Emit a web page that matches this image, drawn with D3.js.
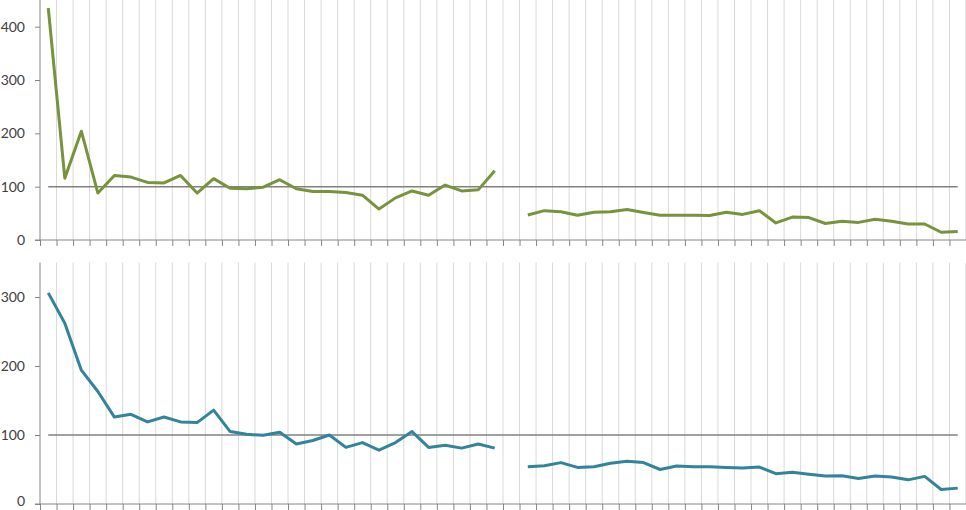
<!DOCTYPE html>
<html>
<head>
<meta charset="utf-8">
<script src="https://cdn.jsdelivr.net/npm/d3@7"></script>
<style>
  html, body { margin: 0; padding: 0; background: #fff; }
  svg { display: block; }
  .tick text { font-family: Lato, "Open Sans", sans-serif; font-size: 14px; fill: #404040; }
</style>
</head>
<body>
<svg id="chart" width="966" height="510"></svg>
<script>
// ---- data ----
const categories = d3.range(1, 57).map(String); // 56 unlabeled periods
const topSeries = [
  435, 116, 204, 88, 121, 118, 108, 107, 121, 88, 115, 97, 96, 99, 113, 96, 91, 91, 89, 84,
  58, 79, 92, 84, 103, 92, 94, 130, null, 47, 55, 53, 46.5, 52, 53, 57, 51.5, 46.5, 46.5, 46.5,
  46, 52, 48, 55, 32, 43, 42, 31, 35, 33, 39, 35, 30, 30, 14.5, 16
];
const bottomSeries = [
  306, 262, 194, 163, 126, 130, 119, 126, 119, 118, 136, 105, 101, 99.5, 104, 87, 92, 100, 82, 89,
  78, 89, 105, 82, 85, 81, 87, 81, null, 54, 55.5, 60, 53, 54, 59, 62, 60, 50, 55, 54,
  54, 53, 52, 53.5, 44, 46, 43, 40.5, 41, 37, 40.5, 39, 35, 40, 21, 23
];
const topTicks = [0, 100, 200, 300, 400];
const bottomTicks = [0, 100, 200, 300];
const referenceValue = 100;

// ---- layout ----
const svg = d3.select("#chart");
const xLeft = 40, xRight = 966;
const x = d3.scaleBand().domain(categories).range([xLeft, xRight]).padding(0);
const xEdge = d3.scaleLinear().domain([0, categories.length]).range([xLeft, xRight]);
const cx = (i) => x(categories[i]) + x.bandwidth() / 2;

function panel(values, yMax, ticks, yTop, yBottom, color, bottomLabelLift) {
  const y = d3.scaleLinear().domain([0, yMax]).range([yBottom, yTop]);
  const g = svg.append("g");

  // vertical gridlines at category boundaries
  g.append("g").selectAll("line")
    .data(d3.range(1, categories.length + 1))
    .join("line")
    .attr("x1", d => xEdge(d)).attr("x2", d => xEdge(d))
    .attr("y1", yTop).attr("y2", yBottom)
    .attr("stroke", "#d9d9d9").attr("stroke-width", 1);

  // y axis
  const ya = g.append("g").attr("transform", `translate(${xLeft},0)`)
    .call(d3.axisLeft(y).tickValues(ticks).tickSize(5).tickPadding(10).tickFormat(d3.format("d")));
  ya.select(".domain").attr("stroke", "#868686").attr("d", `M-5,${yBottom}H0V${yTop}`);
  ya.selectAll(".tick line").attr("stroke", "#868686");
  ya.selectAll(".tick text").filter(d => d === 0).attr("y", -bottomLabelLift);

  // x axis with boundary ticks
  const xa = g.append("g").attr("transform", `translate(0,${yBottom})`)
    .call(d3.axisBottom(xEdge).tickValues(d3.range(0, categories.length + 1)).tickSize(6).tickFormat(""));
  xa.select(".domain").attr("stroke", "#868686").attr("d", `M${xLeft},0H${xRight}`);
  xa.selectAll(".tick line").attr("stroke", "#868686");

  // reference line at 100
  g.append("line")
    .attr("x1", cx(0)).attr("x2", cx(categories.length - 1))
    .attr("y1", y(referenceValue)).attr("y2", y(referenceValue))
    .attr("stroke", "#808080").attr("stroke-width", 1.5);

  // data line
  const line = d3.line()
    .defined(d => d != null)
    .x((d, i) => cx(i))
    .y(d => y(d));
  g.append("path")
    .datum(values)
    .attr("fill", "none")
    .attr("stroke", color)
    .attr("stroke-width", 3)
    .attr("stroke-linejoin", "round")
    .attr("d", line);
}

panel(topSeries, 450, topTicks, 0, 240, "#77933C", 0);
panel(bottomSeries, 350, bottomTicks, 262.5, 504, "#31849B", 3);
</script>
</body>
</html>
